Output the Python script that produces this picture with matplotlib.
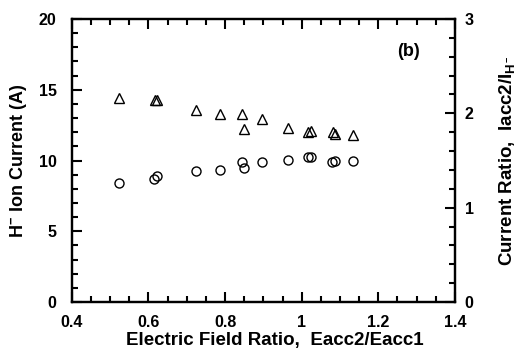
import matplotlib
matplotlib.use("Agg")
import matplotlib.pyplot as plt
from matplotlib.ticker import MultipleLocator, FuncFormatter

plt.rcParams['font.family'] = ['Liberation Sans', 'DejaVu Sans']
plt.rcParams['font.weight'] = 'bold'
plt.rcParams['mathtext.fontset'] = 'custom'
plt.rcParams['mathtext.rm'] = 'Liberation Sans:bold'
plt.rcParams['mathtext.bf'] = 'Liberation Sans:bold'
plt.rcParams['mathtext.it'] = 'Liberation Sans:bold'

# H- ion current (A) vs electric field ratio (circles, left axis)
circ_x = [0.524, 0.615, 0.622, 0.725, 0.787, 0.845, 0.850, 0.897, 0.963, 1.016, 1.025, 1.080, 1.087, 1.133]
circ_y = [8.43, 8.69, 8.90, 9.28, 9.33, 9.92, 9.49, 9.87, 10.06, 10.22, 10.22, 9.92, 9.96, 9.99]

# Current ratio Iacc2/I_H- (triangles, right axis)
tri_x = [0.524, 0.618, 0.622, 0.725, 0.787, 0.845, 0.850, 0.897, 0.964, 1.016, 1.025, 1.081, 1.087, 1.133]
tri_y = [2.166, 2.14, 2.14, 2.035, 1.995, 1.99, 1.83, 1.935, 1.845, 1.806, 1.815, 1.80, 1.78, 1.77]

fig = plt.figure(figsize=(5.17, 3.52), dpi=100)
ax = fig.add_axes([0.139, 0.142, 0.741, 0.804])
ax2 = ax.twinx()

ax.plot(circ_x, circ_y, linestyle='none', marker='o', markersize=6.5,
        markerfacecolor='none', markeredgecolor='black', markeredgewidth=1.0)
ax2.plot(tri_x, tri_y, linestyle='none', marker='^', markersize=7,
         markerfacecolor='none', markeredgecolor='black', markeredgewidth=1.0)

ax.set_xlim(0.4, 1.4)
ax.set_ylim(0, 20)
ax2.set_ylim(0, 3)

ax.xaxis.set_major_locator(MultipleLocator(0.2))
ax.xaxis.set_minor_locator(MultipleLocator(0.05))
ax.xaxis.set_major_formatter(FuncFormatter(lambda v, p: f"{v:g}"))
ax.yaxis.set_major_locator(MultipleLocator(5))
ax.yaxis.set_minor_locator(MultipleLocator(1))
ax2.yaxis.set_major_locator(MultipleLocator(1))
ax2.yaxis.set_minor_locator(MultipleLocator(0.2))

ax.tick_params(axis='x', which='major', direction='in', length=7, width=1.5,
               labelsize=11.5, top=True, pad=9)
ax.tick_params(axis='y', which='major', direction='in', length=7, width=1.5,
               labelsize=11.5, pad=11)
ax.tick_params(axis='both', which='minor', direction='in', length=4, width=1.5, top=True)
ax.tick_params(axis='y', which='both', right=False)
ax2.tick_params(axis='y', which='major', direction='in', length=7, width=1.5,
                labelsize=11.5, pad=7)
ax2.tick_params(axis='y', which='minor', direction='in', length=4, width=1.5)

for a in (ax, ax2):
    for s in a.spines.values():
        s.set_linewidth(1.6)
    for lbl in a.get_xticklabels() + a.get_yticklabels():
        lbl.set_fontweight('bold')

ax.set_xlabel("Electric Field Ratio,  Eacc2/Eacc1", fontsize=13.5, fontweight='bold', labelpad=2)
ax.xaxis.label.set_x(0.53)
ax.set_ylabel("H$^{-}$ Ion Current (A)", fontsize=13, fontweight='bold', labelpad=7)
ax2.set_ylabel("Current Ratio,  Iacc2/I$_{H^{-}}$", fontsize=13.5,
               fontweight='bold', rotation=90, labelpad=17)

ax.text(1.28, 17.7, "(b)", fontsize=13, fontweight='bold', ha='center', va='center')

fig.savefig("out.png", dpi=100)
